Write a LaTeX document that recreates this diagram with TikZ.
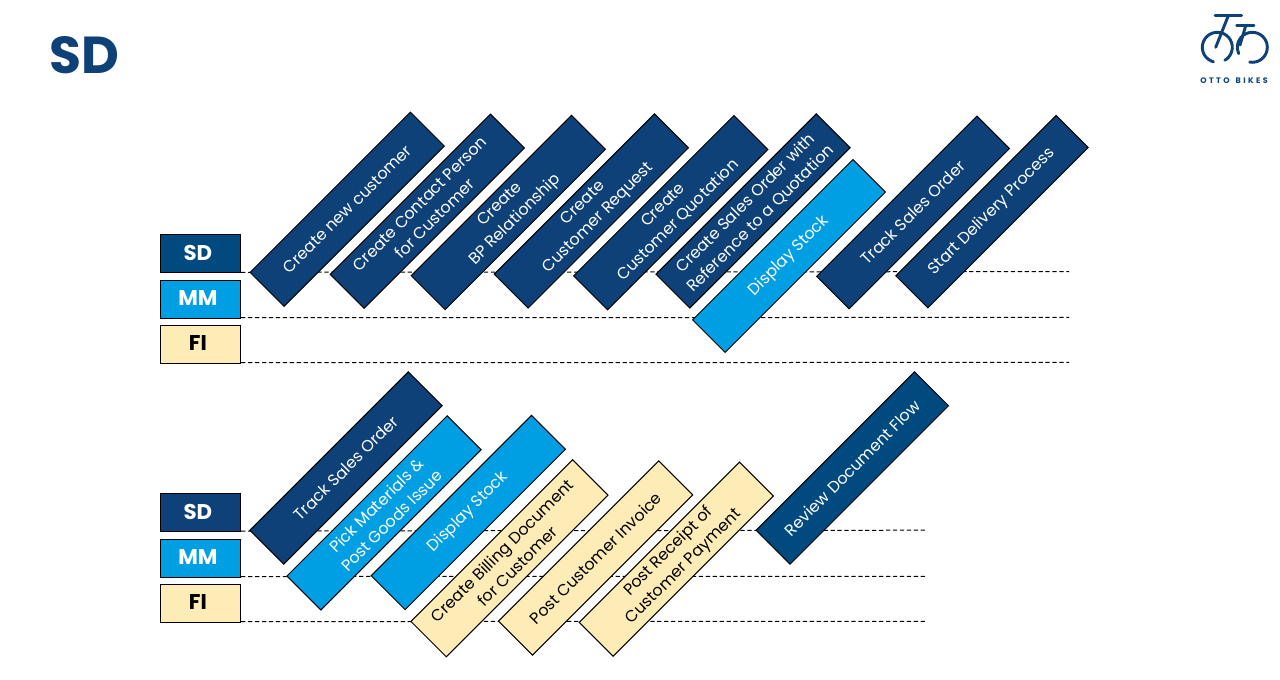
\documentclass[tikz,border=0pt]{standalone}
\usepackage{fontspec}
\setmainfont{Poppins}
\newfontfamily\logofont[LetterSpace=30]{Poppins}
\definecolor{sdblue}{HTML}{0E4177}
\definecolor{sdlane}{HTML}{004A80}
\definecolor{mmblue}{HTML}{009FE3}
\definecolor{fiyellow}{HTML}{FEECB7}
\tikzset{
    lanebox/.style={draw=black, line width=0.75pt, minimum width=60.3pt, minimum height=28.4pt, inner sep=0pt, text depth=1.5pt, execute at begin node={\hspace*{-4pt}}, font=\fontsize{16}{18}\selectfont\bfseries},
    stepbox/.style={draw=black, line width=0.75pt, rotate=45, minimum width=170pt, minimum height=36pt, inner sep=0pt, align=center, font=\fontsize{12}{16}\selectfont},
    laneline/.style={dashed, dash pattern=on 3.2pt off 2pt, line width=0.75pt},
    logoline/.style={draw=sdblue, line width=2.2pt, line cap=round},
}

\begin{document}
\begin{tikzpicture}[x=0.75pt, y=-0.75pt]
    \useasboundingbox (0,0) rectangle (1280,680);

    \node[text=sdblue, font=\fontsize{39}{42}\selectfont\bfseries] (title) at (84.5,55.5) {SD};

    \draw[logoline] (1215,15.7) -- (1241.7,15.7);
    \draw[logoline] (1228.3,15.7) -- (1215.7,47.3);
    \draw[logoline] (1236.7,25.7) -- (1254,25.7);
    \draw[logoline] (1245.7,25.7) -- (1240,45);
    \draw[logoline] (1217.3,47.3) ++(60:15) arc (60:-255:15);
    \draw[logoline] (1252.3,47.3) ++(100:15) arc (100:-205:15);
    \node[text=sdblue, font=\logofont\fontsize{6}{7}\selectfont\bfseries] (logotext) at (1234,80.5) {OTTO\hspace{1.5pt} BIKES};

    \node[lanebox, fill=sdlane, text=white] (sdtop) at (200.5,253.8) {SD};
    \node[lanebox, fill=mmblue, text=white] (mmtop) at (200.5,299.2) {MM};
    \node[lanebox, fill=fiyellow, text=black] (fitop) at (200.5,344.2) {FI};
    \node[lanebox, fill=sdblue, text=white] (sdlow) at (200.5,512.8) {SD};
    \node[lanebox, fill=mmblue, text=white] (mmlow) at (200.5,558.3) {MM};
    \node[lanebox, fill=fiyellow, text=black] (filow) at (200.5,603.3) {FI};

    \coordinate (sdtopend) at (1069,271.6);
    \coordinate (mmtopend) at (1069,317.4);
    \coordinate (fitopend) at (1069,362.4);
    \coordinate (sdlowend) at (925,530.2);
    \coordinate (mmlowend) at (925,576.3);
    \coordinate (filowend) at (925,621.4);

    \draw[laneline] ([yshift=0.7pt]sdtop.south east) -- (sdtopend);
    \draw[laneline] ([yshift=0.7pt]mmtop.south east) -- (mmtopend);
    \draw[laneline] ([yshift=0.7pt]fitop.south east) -- (fitopend);
    \draw[laneline] ([yshift=0.9pt]sdlow.south east) -- (sdlowend);
    \draw[laneline] ([yshift=0.9pt]mmlow.south east) -- (mmlowend);
    \draw[laneline] ([yshift=0.9pt]filow.south east) -- (filowend);

    \node[stepbox, fill=sdblue, text=white] (newcustomer) at (347.2,209.2) {Create new customer};
    \node[stepbox, fill=sdblue, text=white] (contactperson) at (427.3,211.2) {Create Contact Person\\for Customer};
    \node[stepbox, fill=sdblue, text=white] (bprelation) at (508.3,212.5) {Create\\BP Relationship};
    \node[stepbox, fill=sdblue, text=white] (customerrequest) at (591.3,211) {Create\\Customer Request};
    \node[stepbox, fill=sdblue, text=white] (customerquote) at (670.7,212.7) {Create\\Customer Quotation};
    \node[stepbox, fill=sdblue, text=white] (salesorder) at (753,211) {Create Sales Order with\\Reference to a Quotation};
    \node[stepbox, fill=mmblue, text=white, minimum height=34.5pt] (stocktop) at (789,256) {Display Stock};
    \node[stepbox, fill=sdblue, text=white, minimum height=34.5pt] (tracktop) at (913,212.5) {Track Sales Order};
    \node[stepbox, fill=sdblue, text=white, minimum height=34pt] (delivery) at (992,211.7) {Start Delivery Process};

    \node[stepbox, fill=sdblue, text=white, minimum width=168pt] (tracklow) at (346,468) {Track Sales Order};
    \node[stepbox, fill=mmblue, text=white] (pickgoods) at (384,512.9) {Pick Materials \&\\Post Goods Issue};
    \node[stepbox, fill=mmblue, text=white] (stocklow) at (468.3,512.5) {Display Stock};
    \node[stepbox, fill=fiyellow, text=black, minimum width=171.5pt, minimum height=37.5pt] (billing) at (509.5,558.3) {Create Billing Document\\for Customer};
    \node[stepbox, fill=fiyellow, text=black] (invoice) at (595.6,558) {Post Customer Invoice};
    \node[stepbox, fill=fiyellow, text=black] (payment) at (676.3,559.2) {Post Receipt of\\Customer Payment};
    \node[stepbox, fill=sdlane, text=white, minimum width=168pt] (docflow) at (852.3,468) {Review Document Flow};
\end{tikzpicture}
\end{document}
